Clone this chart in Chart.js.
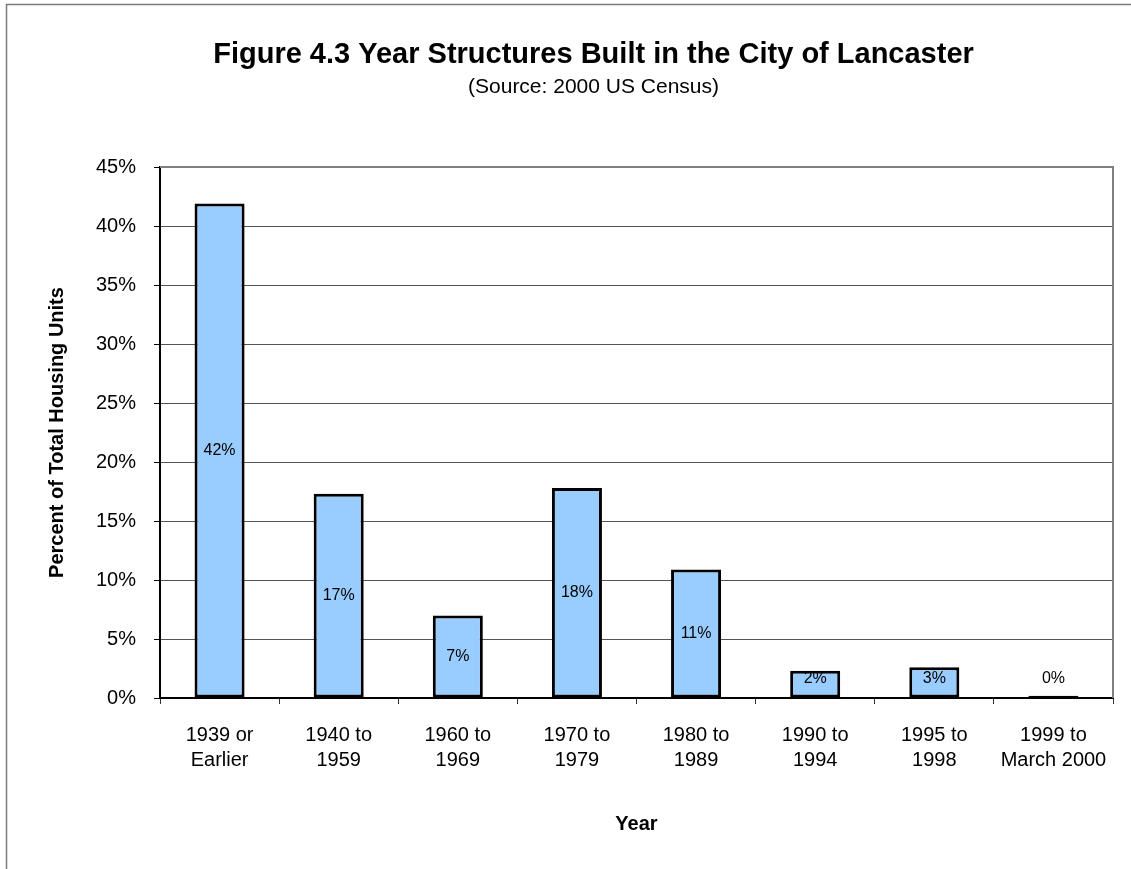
<!DOCTYPE html>
<html>
<head>
<meta charset="utf-8">
<script src="https://cdn.jsdelivr.net/npm/chart.js@4.4.1/dist/chart.umd.min.js"></script>
<style>
  html, body { margin: 0; padding: 0; background: #fff; overflow: hidden; }
  canvas { display: block; }
</style>
</head>
<body>
<canvas id="chart" width="1131" height="869"></canvas>
<script>
const titleText = 'Figure 4.3 Year Structures Built in the City of Lancaster';
const subtitleText = '(Source: 2000 US Census)';
const categories = [
  ['1939 or', 'Earlier'],
  ['1940 to', '1959'],
  ['1960 to', '1969'],
  ['1970 to', '1979'],
  ['1980 to', '1989'],
  ['1990 to', '1994'],
  ['1995 to', '1998'],
  ['1999 to', 'March 2000'],
];
const percentUnits = [41.9, 17.3, 7.0, 17.8, 10.9, 2.3, 2.6, 0.2];
const yTicks = [0, 5, 10, 15, 20, 25, 30, 35, 40, 45];

const FONT = 'Arial, "Liberation Sans", sans-serif';

// frame, titles, plot border on the right
const decorPlugin = {
  id: 'decor',
  beforeDraw(chart) {
    const ctx = chart.ctx;
    ctx.save();
    ctx.fillStyle = '#fff';
    ctx.fillRect(0, 0, chart.width, chart.height);
    ctx.strokeStyle = '#7a7a7a';
    ctx.lineWidth = 1.5;
    ctx.beginPath();
    ctx.moveTo(6.5, chart.height + 5);
    ctx.lineTo(6.5, 4.5);
    ctx.lineTo(chart.width + 5, 4.5);
    ctx.stroke();

    ctx.fillStyle = '#000';
    ctx.textAlign = 'center';
    ctx.textBaseline = 'middle';
    ctx.font = 'bold 29px ' + FONT;
    ctx.fillText(titleText, 593.5, 55);
    ctx.font = '21px ' + FONT;
    ctx.fillText(subtitleText, 593.5, 87);
    ctx.restore();
  },
  beforeDatasetsDraw(chart) {
    const {ctx, chartArea: a} = chart;
    ctx.save();
    ctx.strokeStyle = '#808080';
    ctx.lineWidth = 2;
    ctx.beginPath();
    ctx.moveTo(a.left, a.top);
    ctx.lineTo(a.right, a.top);
    ctx.lineTo(a.right, a.bottom);
    ctx.stroke();
    ctx.restore();
  },
};

// percent labels centered in the bars, kept off the axis for short bars
const labelPlugin = {
  id: 'barLabels',
  afterDatasetsDraw(chart) {
    const ctx = chart.ctx;
    const bottom = chart.chartArea.bottom;
    ctx.save();
    ctx.font = '16px ' + FONT;
    ctx.fillStyle = '#000';
    ctx.textAlign = 'center';
    ctx.textBaseline = 'middle';
    chart.getDatasetMeta(0).data.forEach((bar, i) => {
      const y = Math.min((bar.y + bar.base) / 2, bottom - 19);
      ctx.fillText(Math.round(percentUnits[i]) + '%', bar.x, y);
    });
    ctx.restore();
  },
};

new Chart(document.getElementById('chart'), {
  type: 'bar',
  data: {
    labels: categories,
    datasets: [{
      data: percentUnits,
      backgroundColor: '#99ccff',
      borderColor: '#000',
      borderWidth: 3,
      borderSkipped: false,
      barPercentage: 0.42,
      categoryPercentage: 1,
    }],
  },
  options: {
    responsive: false,
    animation: false,
    layout: {
      padding: { top: 167, right: 18, bottom: 0, left: 0 },
    },
    plugins: {
      legend: { display: false },
      tooltip: { enabled: false },
    },
    scales: {
      x: {
        offset: true,
        grid: {
          offset: true,
          drawOnChartArea: false,
          drawTicks: true,
          tickLength: 6,
          tickColor: '#333',
        },
        border: { color: '#000', width: 2 },
        ticks: {
          color: '#000',
          padding: 19,
          maxRotation: 0,
          autoSkip: false,
          font: { family: FONT, size: 20, lineHeight: 1.25 },
        },
        title: {
          display: true,
          text: 'Year',
          color: '#000',
          font: { family: FONT, size: 20, weight: 'bold', lineHeight: 1.2 },
          padding: { top: 0, bottom: 33 },
        },
        afterFit(scale) { scale.height = 171; },
      },
      y: {
        min: 0,
        max: 45,
        afterBuildTicks(scale) {
          scale.ticks = yTicks.map(v => ({ value: v }));
        },
        grid: {
          color: '#555',
          lineWidth: 1,
          tickLength: 6,
          tickColor: '#000',
        },
        border: { color: '#000', width: 2 },
        ticks: {
          color: '#000',
          padding: 18,
          font: { family: FONT, size: 20 },
          callback: v => v + '%',
        },
        title: {
          display: true,
          text: 'Percent of Total Housing Units',
          color: '#000',
          font: { family: FONT, size: 20, weight: 'bold', lineHeight: 1.2 },
          padding: { top: 45, bottom: 0 },
        },
        afterFit(scale) { scale.width = 160; },
      },
    },
  },
  plugins: [decorPlugin, labelPlugin],
});
</script>
</body>
</html>
